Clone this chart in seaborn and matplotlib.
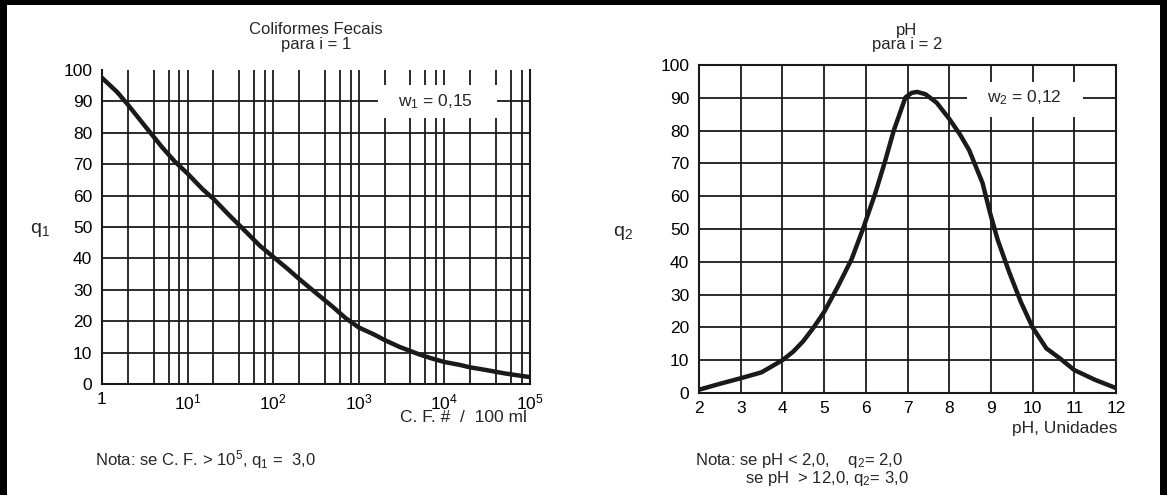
import matplotlib
matplotlib.use("Agg")
import matplotlib.pyplot as plt
from matplotlib.patches import Rectangle
from matplotlib.ticker import LogLocator, NullFormatter
import seaborn as sns

# === DADOS ===
# Coliformes fecais (C.F. # / 100 ml) -> q1
cf_valores = [1, 1.5, 2, 3, 5, 7, 10, 15, 20, 30, 50, 70, 100, 150, 200, 300, 500, 700,
              1000, 1500, 2000, 3000, 5000, 7000, 1e4, 1.5e4, 2e4, 3e4, 5e4, 7e4, 1e5]
q1_valores = [97.5, 93, 89, 83, 75.5, 71, 67, 62, 59, 54, 48, 44, 40.5, 36.5, 33.5, 29.5,
              24.5, 21, 18, 15.8, 14, 11.8, 9.5, 8.2, 7, 6.1, 5.3, 4.5, 3.4, 2.8, 2.2]

# pH -> q2
ph_valores = [2, 2.5, 3, 3.5, 4, 4.25, 4.5, 4.75, 5, 5.34, 5.66, 5.92, 6.23, 6.47, 6.67,
              6.95, 7.1, 7.23, 7.43, 7.7, 8, 8.25, 8.48, 8.8, 8.98, 9.16, 9.44, 9.72, 10,
              10.33, 10.65, 11, 11.5, 12]
q2_valores = [1, 2.8, 4.5, 6.3, 10, 12.5, 15.8, 20, 24.7, 32.7, 40.8, 49.6, 61, 71, 80,
              90.1, 91.5, 91.8, 91.1, 88.5, 83.6, 79, 74, 64, 54.9, 46.8, 36.8, 27.7, 20,
              13.6, 10.6, 7, 4, 1.5]

decadas = [1, 10, 100, 1000, 1e4, 1e5]
rotulos_decadas = ["1", r"$\mathregular{10^{1}}$", r"$\mathregular{10^{2}}$",
                   r"$\mathregular{10^{3}}$", r"$\mathregular{10^{4}}$", r"$\mathregular{10^{5}}$"]
ticks_q = list(range(0, 101, 10))
ticks_ph = list(range(2, 13))

# === CONFIGURAÇÕES ===
sns.set_style("white")
plt.rcParams["font.family"] = ["Liberation Sans", "DejaVu Sans"]
plt.rcParams["mathtext.fontset"] = "custom"
plt.rcParams["mathtext.rm"] = "Liberation Sans"

W, H = 1167, 495
COR = "#1a1a1a"
FS = 12.5


def fx(p):
    return p / W


def fy(p):
    return 1 - p / H


fig = plt.figure(figsize=(W / 100, H / 100), dpi=100, facecolor="white")

# moldura preta (esquerda, topo, direita) - sem borda embaixo
fig.add_artist(Rectangle((0, 0), 1, 12 / H, transform=fig.transFigure, facecolor="white", edgecolor="none"))
fig.add_artist(Rectangle((0, 0), fx(7), 1, transform=fig.transFigure, facecolor="black", edgecolor="none"))
fig.add_artist(Rectangle((0, fy(5)), 1, 5 / H, transform=fig.transFigure, facecolor="black", edgecolor="none"))
fig.add_artist(Rectangle((1 - fx(7), 0), fx(7), 1, transform=fig.transFigure, facecolor="black", edgecolor="none"))

# === GRÁFICO 1: COLIFORMES FECAIS ===
ax1 = fig.add_axes([fx(102), fy(384), fx(428), 314 / H])
ax1.set_axisbelow(True)
sns.lineplot(x=cf_valores, y=q1_valores, ax=ax1, color=COR, linewidth=3.2, zorder=3)
ax1.set_xscale("log")
ax1.set_xlim(1, 1e5)
ax1.set_ylim(0, 100)
ax1.set_xticks(decadas, labels=rotulos_decadas)
ax1.xaxis.set_minor_locator(LogLocator(base=10, subs=[2, 4, 6, 8]))
ax1.xaxis.set_minor_formatter(NullFormatter())
ax1.set_yticks(ticks_q)
ax1.grid(axis="x", which="both", color=COR, linewidth=1.3)
ax1.hlines(ticks_q[1:-1], 1, 1e5, color=COR, linewidth=1.3, zorder=1)
ax1.spines["top"].set_visible(False)
for s in ["left", "right", "bottom"]:
    ax1.spines[s].set_color(COR)
    ax1.spines[s].set_linewidth(1.5)
ax1.tick_params(which="both", length=0, labelsize=FS, colors="black")
ax1.tick_params(axis="x", pad=6)
ax1.tick_params(axis="y", pad=7)
ax1.add_patch(Rectangle((1675, 84.7), 41100 - 1675, 10.5, facecolor="white",
                        edgecolor="none", zorder=2))
ax1.text(7800, 90, r"$\mathregular{w_{1}}$ = 0,15", ha="center", va="center",
         fontsize=FS, zorder=4)
ax1.set_xlabel("")
ax1.set_ylabel("")

# === GRÁFICO 2: pH ===
ax2 = fig.add_axes([fx(699), fy(393), fx(417), 328 / H])
ax2.set_axisbelow(True)
sns.lineplot(x=ph_valores, y=q2_valores, ax=ax2, color=COR, linewidth=3.2, zorder=3)
ax2.set_xlim(2, 12)
ax2.set_ylim(0, 100)
ax2.set_xticks(ticks_ph)
ax2.set_yticks(ticks_q)
ax2.grid(True, color=COR, linewidth=1.3)
for s in ax2.spines.values():
    s.set_color(COR)
    s.set_linewidth(1.5)
ax2.tick_params(length=0, labelsize=FS, colors="black")
ax2.tick_params(axis="x", pad=6)
ax2.tick_params(axis="y", pad=7)
ax2.add_patch(Rectangle((8.42, 84.2), 11.2 - 8.42, 10.7, facecolor="white",
                        edgecolor="none", zorder=2))
ax2.text(9.8, 90, r"$\mathregular{w_{2}}$ = 0,12", ha="center", va="center",
         fontsize=FS, zorder=4)
ax2.set_xlabel("")
ax2.set_ylabel("")

# === TEXTOS ===
fig.text(fx(316), fy(30), "Coliformes Fecais", ha="center", va="center", fontsize=12)
fig.text(fx(316), fy(45), "para i = 1", ha="center", va="center", fontsize=12)
fig.text(fx(907), fy(30), "pH", ha="center", va="center", fontsize=12)
fig.text(fx(907), fy(45), "para i = 2", ha="center", va="center", fontsize=12)

fig.text(fx(40), fy(230), r"q$\mathregular{_{1}}$", ha="center", va="center", fontsize=14)
fig.text(fx(623), fy(233), r"q$\mathregular{_{2}}$", ha="center", va="center", fontsize=14)

fig.text(fx(527), fy(418), "C. F. #  /  100 ml", ha="right", va="center", fontsize=FS)
fig.text(fx(1117), fy(429), "pH, Unidades", ha="right", va="center", fontsize=FS)

fig.text(fx(95), fy(460), r"Nota: se C. F. > 10$\mathregular{^{5}}$, q$\mathregular{_{1}}$ =  3,0",
         ha="left", va="center", fontsize=12)
fig.text(fx(695), fy(461), r"Nota: se pH < 2,0,    q$\mathregular{_{2}}$= 2,0",
         ha="left", va="center", fontsize=12)
fig.text(fx(745), fy(478), r"se pH  > 12,0, q$\mathregular{_{2}}$= 3,0",
         ha="left", va="center", fontsize=12)

fig.savefig("out.png", dpi=100, facecolor="white")
